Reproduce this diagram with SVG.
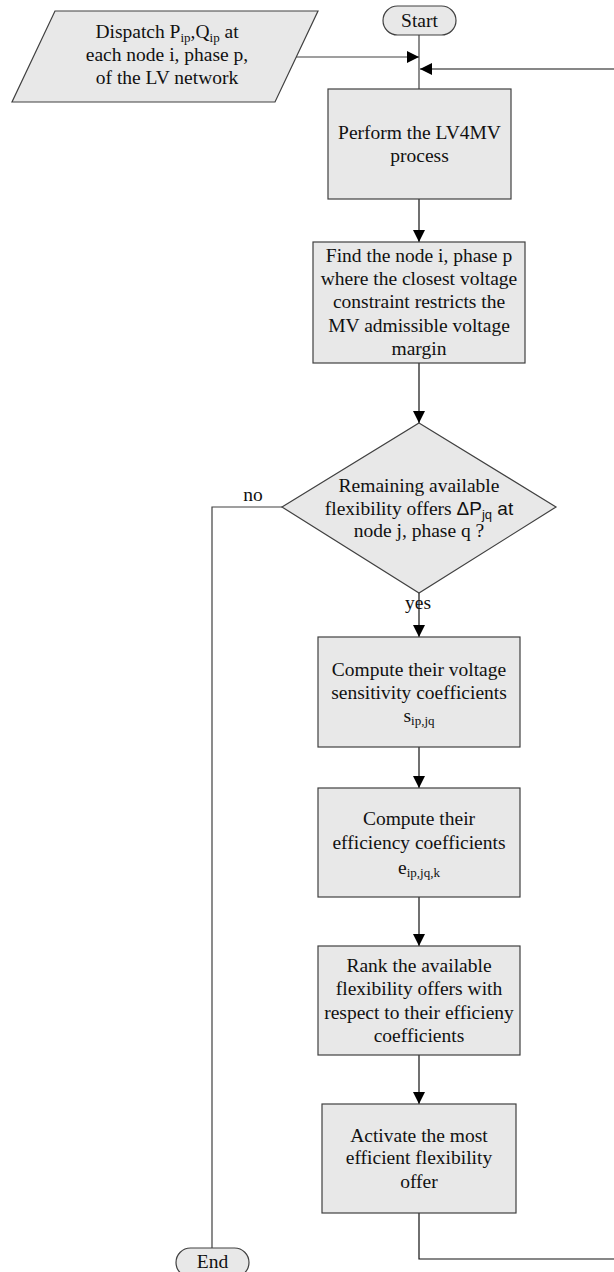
<svg xmlns="http://www.w3.org/2000/svg" width="614" height="1272" viewBox="0 0 614 1272">
<style>
.box{fill:#e8e8e8;stroke:#404040;stroke-width:1.2}
.t{font-family:"Liberation Serif","Times New Roman",serif;font-size:19.5px;fill:#111;text-anchor:middle}
.sub{font-size:13px}
.sans{font-family:"Liberation Sans",Arial,sans-serif;font-size:19px}
.sans2{font-family:"Liberation Sans",Arial,sans-serif;font-size:13px}
.c{fill:none;stroke:#111;stroke-width:1.2}
.g{fill:none;stroke:#404040;stroke-width:1.2}
</style>
<defs>
<marker id="ah" markerWidth="12" markerHeight="12" viewBox="0 0 12 12" refX="12" refY="6" orient="auto" markerUnits="userSpaceOnUse">
<path d="M0,0 L12,6 L0,12 Z" fill="#000"/>
</marker>
</defs>
<g id="connectors">
<path class="g" d="M419,35 V89"/>
<path class="g" d="M296,57 H419" marker-end="url(#ah)"/>
<path class="c" d="M419,1213 V1259 H617 V69 H420" marker-end="url(#ah)"/>
<path class="c" d="M419,199 V242" marker-end="url(#ah)"/>
<path class="c" d="M419,363 V423" marker-end="url(#ah)"/>
<path class="c" d="M419,593 V637" marker-end="url(#ah)"/>
<path class="c" d="M419,747 V788" marker-end="url(#ah)"/>
<path class="c" d="M419,897 V946" marker-end="url(#ah)"/>
<path class="c" d="M419,1055 V1104" marker-end="url(#ah)"/>
<path class="g" d="M282,507 H212 V1248"/>
</g>
<g id="dispatch">
<polygon class="box" points="55,11 318,11 275,102 12,102"/>
<text class="t" x="167" y="38">Dispatch P<tspan class="sub" dy="4">ip</tspan><tspan dy="-4">,Q</tspan><tspan class="sub" dy="4">ip</tspan><tspan dy="-4"> at</tspan></text>
<text class="t" x="167" y="61">each node i, phase p,</text>
<text class="t" x="167" y="84">of the LV network</text>
</g>
<g id="start">
<rect class="box" x="383" y="6" width="73" height="29" rx="14.5"/>
<text class="t" x="419.5" y="27">Start</text>
</g>
<g id="lv4mv">
<rect class="box" x="328" y="89" width="183" height="110"/>
<text class="t" x="419.5" y="138.5">Perform the LV4MV</text>
<text class="t" x="419.5" y="161.5">process</text>
</g>
<g id="findnode">
<rect class="box" x="313" y="242" width="212" height="121"/>
<text class="t" x="419" y="261.5">Find the node i, phase p</text>
<text class="t" x="419" y="285">where the closest voltage</text>
<text class="t" x="419" y="308">constraint restricts the</text>
<text class="t" x="419" y="331.5">MV admissible voltage</text>
<text class="t" x="419" y="354.5">margin</text>
</g>
<g id="decision">
<polygon class="box" points="419,423 556,507 419,593 282,507"/>
<text class="t" x="419" y="491.5">Remaining available</text>
<text class="t" x="419" y="514.5">flexibility offers <tspan class="sans">ΔP</tspan><tspan class="sans2" dy="4">jq</tspan><tspan class="sans" dy="-4"> at</tspan></text>
<text class="t" x="419" y="537">node j, phase q ?</text>
<text class="t" x="253" y="501">no</text>
<text class="t" x="418" y="609">yes</text>
</g>
<g id="sensitivity">
<rect class="box" x="318" y="637" width="202" height="110"/>
<text class="t" x="419" y="675.5">Compute their voltage</text>
<text class="t" x="419" y="698.5">sensitivity coefficients</text>
<text class="t" x="419" y="722">s<tspan class="sub" dy="3">ip,jq</tspan></text>
</g>
<g id="efficiency">
<rect class="box" x="318" y="788" width="202" height="109"/>
<text class="t" x="419" y="824.5">Compute their</text>
<text class="t" x="419" y="848.5">efficiency coefficients</text>
<text class="t" x="419" y="874">e<tspan class="sub" dy="3">ip,jq,k</tspan></text>
</g>
<g id="rank">
<rect class="box" x="318" y="946" width="202" height="109"/>
<text class="t" x="419" y="971.5">Rank the available</text>
<text class="t" x="419" y="994.5">flexibility offers with</text>
<text class="t" x="419" y="1019">respect to their efficieny</text>
<text class="t" x="419" y="1041.5">coefficients</text>
</g>
<g id="activate">
<rect class="box" x="322" y="1104" width="194" height="109"/>
<text class="t" x="419" y="1141.5">Activate the most</text>
<text class="t" x="419" y="1163.5">efficient flexibility</text>
<text class="t" x="419" y="1187.5">offer</text>
</g>
<g id="end">
<rect class="box" x="176" y="1248" width="73" height="29" rx="14.5"/>
<text class="t" x="212.5" y="1268">End</text>
</g>
</svg>
